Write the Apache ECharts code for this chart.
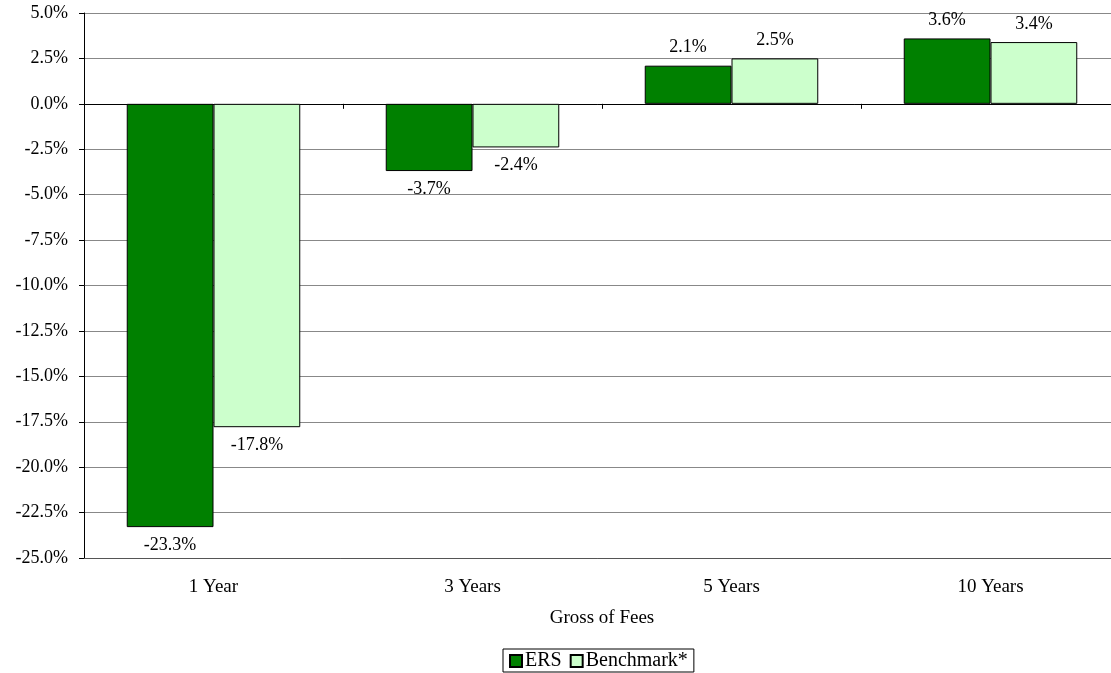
<!DOCTYPE html>
<html>
<head>
<meta charset="utf-8">
<script src="https://cdn.jsdelivr.net/npm/echarts@6/dist/echarts.min.js"></script>
<style>
  html, body { margin: 0; padding: 0; background: #fff; }
  #main { width: 1111px; height: 673px; }
</style>
</head>
<body>
<div id="main"></div>
<script>
var periods = ["1 Year", "3 Years", "5 Years", "10 Years"];
var ersReturns = [-23.3, -3.7, 2.1, 3.6];
var benchmarkReturns = [-17.8, -2.4, 2.5, 3.4];

var font = "Liberation Serif";
var fs = 18;

function withLabelPos(values) {
  return values.map(function (v) {
    return { value: v, label: { position: v < 0 ? "bottom" : "top" } };
  });
}

var chartDom = document.getElementById("main");
var myChart = echarts.init(chartDom);
var option;

option = {
  animation: false,
  textStyle: { fontFamily: font },
  grid: { left: 84, top: 13, right: -9, bottom: 115, containLabel: false, outerBoundsMode: "none" },
  legend: {
    bottom: 1,
    left: 503,
    icon: "rect",
    itemWidth: 12,
    itemHeight: 12,
    itemGap: 8,
    padding: [2, 6, 1, 6],
    borderColor: "#000",
    borderWidth: 1,
    textStyle: { fontFamily: font, fontSize: 20, color: "#000", padding: [0, 0, 0, -2] },
    data: ["ERS", "Benchmark*"],
  },
  xAxis: [
    {
      type: "category",
      data: periods,
      axisLine: { onZero: true, lineStyle: { color: "#000", width: 1 } },
      axisTick: { show: true, length: 5, lineStyle: { color: "#000" } },
      axisLabel: { show: false },
      splitLine: { show: false },
    },
    {
      type: "category",
      data: periods,
      position: "bottom",
      axisLine: { onZero: false, lineStyle: { color: "#555" } },
      axisTick: { show: false },
      axisLabel: { fontFamily: font, fontSize: 19, color: "#000", margin: 20 },
      name: "Gross of Fees",
      nameLocation: "middle",
      nameGap: 51,
      nameTextStyle: { fontFamily: font, fontSize: 19, color: "#000" },
    },
  ],
  yAxis: {
    type: "value",
    min: -25,
    max: 5,
    interval: 2.5,
    axisLine: { show: true, lineStyle: { color: "#000" } },
    axisTick: { show: true, length: 5, lineStyle: { color: "#000" } },
    axisLabel: {
      fontFamily: font,
      fontSize: fs,
      color: "#000",
      margin: 16,
      formatter: function (v) { return v.toFixed(1) + "%"; },
    },
    splitLine: { lineStyle: { color: "#888", width: 1 } },
  },
  series: [
    {
      name: "ERS",
      type: "bar",
      xAxisIndex: 0,
      data: withLabelPos(ersReturns),
      barGap: "0%",
      barCategoryGap: "33%",
      itemStyle: { color: "#008000", borderColor: "#000", borderWidth: 1 },
      label: {
        show: true,
        distance: 9,
        fontFamily: font,
        fontSize: fs,
        color: "#000",
        formatter: function (p) { return p.value.toFixed(1) + "%"; },
      },
    },
    {
      name: "Benchmark*",
      type: "bar",
      xAxisIndex: 0,
      data: withLabelPos(benchmarkReturns),
      barGap: "0%",
      barCategoryGap: "33%",
      itemStyle: { color: "#CCFFCC", borderColor: "#000", borderWidth: 1 },
      label: {
        show: true,
        distance: 9,
        fontFamily: font,
        fontSize: fs,
        color: "#000",
        formatter: function (p) { return p.value.toFixed(1) + "%"; },
      },
    },
  ],
};

option && myChart.setOption(option);
</script>
</body>
</html>
